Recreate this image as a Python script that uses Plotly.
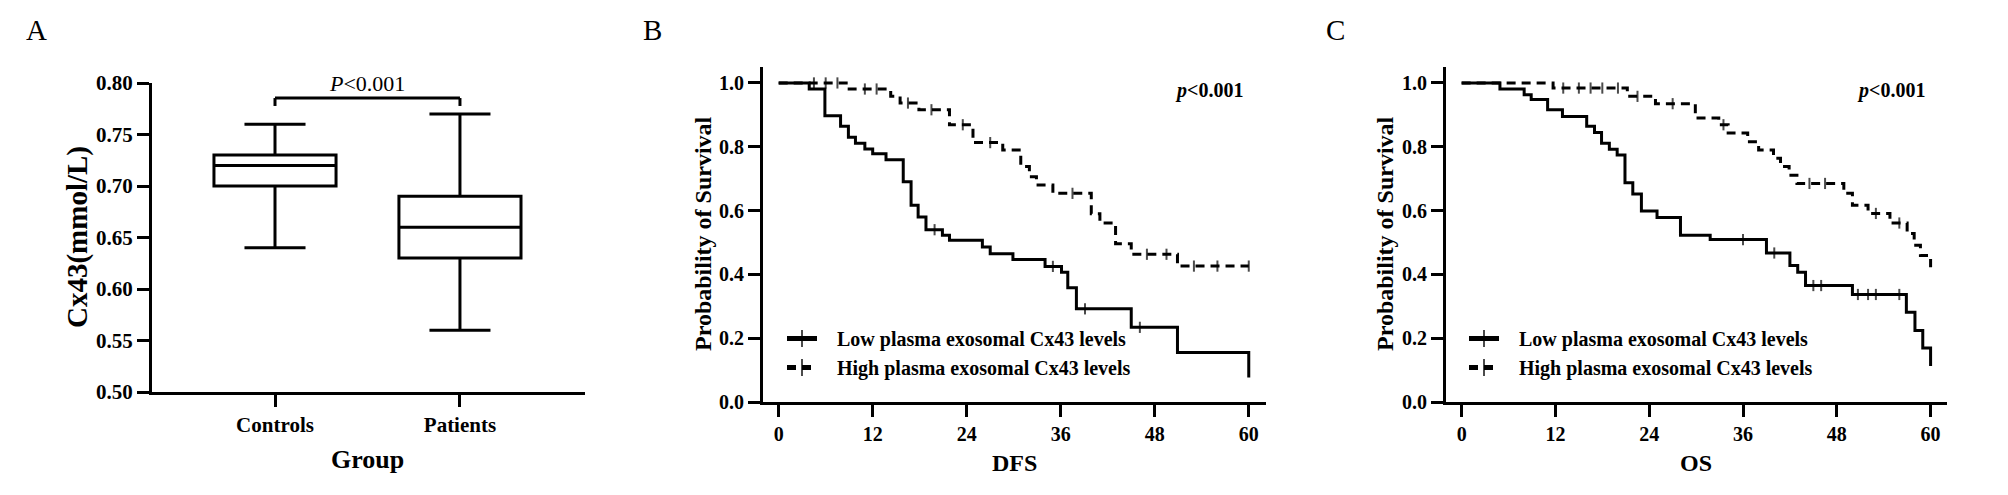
import plotly.graph_objects as go

FONT = "Liberation Serif"

# ---------------- Panel A: box plot data ----------------
groups = ["Controls", "Patients"]
lower_whisker = [0.64, 0.56]
q1_vals = [0.70, 0.63]
median_vals = [0.72, 0.66]
q3_vals = [0.73, 0.69]
upper_whisker = [0.76, 0.77]
a_yticks = [0.50, 0.55, 0.60, 0.65, 0.70, 0.75, 0.80]

# ---------------- Panel B: DFS Kaplan-Meier ----------------
dfs_low_times = [0, 3.9, 5.9, 7.9, 8.9, 9.8, 11.0, 12.0, 13.7, 15.9, 16.9, 17.8, 18.8,
                 20.9, 21.8, 26.0, 27.0, 29.9, 34.0, 36.1, 36.9, 38.0, 45.0, 50.9, 60.0]
dfs_low_surv = [1.0, 0.981, 0.897, 0.864, 0.83, 0.811, 0.793, 0.778, 0.759, 0.69, 0.617, 0.58, 0.54,
                0.523, 0.507, 0.486, 0.465, 0.447, 0.425, 0.407, 0.358, 0.292, 0.234, 0.155, 0.077]
dfs_low_censor = [19.9, 35.0, 39.1, 46.1]

dfs_high_times = [0, 9.0, 14.3, 15.5, 17.9, 21.8, 24.8, 28.6, 30.9, 32.0, 32.9, 35.0,
                  39.9, 41.0, 43.0, 45.0, 50.9]
dfs_high_surv = [1.0, 0.981, 0.958, 0.937, 0.916, 0.869, 0.813, 0.79, 0.738, 0.706, 0.68, 0.654,
                 0.59, 0.561, 0.496, 0.463, 0.426]
dfs_high_censor = [4.5, 6.0, 7.5, 11.0, 12.5, 16.5, 19.5, 23.5, 27.0, 37.5, 47.0, 49.5, 53.0, 56.0, 60.0]

# ---------------- Panel C: OS Kaplan-Meier ----------------
os_low_times = [0, 4.9, 8.0, 8.9, 11.0, 12.9, 16.0, 17.0, 17.9, 18.9, 19.9, 20.9, 21.9, 23.0,
                25.0, 28.0, 31.8, 39.0, 42.0, 43.0, 44.0, 50.0, 56.9, 58.0, 59.0, 60.0]
os_low_surv = [1.0, 0.981, 0.963, 0.948, 0.916, 0.895, 0.864, 0.845, 0.811, 0.792, 0.774, 0.687,
               0.652, 0.599, 0.578, 0.523, 0.509, 0.467, 0.428, 0.407, 0.365, 0.337, 0.281, 0.224,
               0.169, 0.113]
os_low_censor = [36.0, 40.0, 45.0, 46.0, 50.7, 52.0, 53.0, 56.0]

os_high_times = [0, 11.7, 21.2, 24.8, 29.9, 32.9, 34.1, 36.6, 38.0, 39.9, 40.8, 41.9, 42.9,
                 48.9, 50.0, 52.0, 54.8, 57.0, 57.9, 58.7, 60.0]
os_high_surv = [1.0, 0.984, 0.958, 0.935, 0.89, 0.869, 0.843, 0.816, 0.79, 0.764, 0.738, 0.711,
                0.685, 0.654, 0.617, 0.591, 0.561, 0.528, 0.491, 0.459, 0.422]
os_high_censor = [13.0, 15.0, 16.5, 18.0, 20.0, 22.5, 27.0, 33.5, 44.5, 46.5, 53.0, 56.0]

km_xticks = [0, 12, 24, 36, 48, 60]
km_yticks = [0.0, 0.2, 0.4, 0.6, 0.8, 1.0]

low_name = "Low plasma exosomal Cx43 levels"
high_name = "High plasma exosomal Cx43 levels"


def km_points(times, surv, censor, tick_size=8):
    pts = [(t, s, 0) for t, s in zip(times, surv)]
    for c in censor:
        s_c = surv[0]
        for t, s in zip(times, surv):
            if t <= c:
                s_c = s
        pts.append((c, s_c, tick_size))
    pts.sort(key=lambda p: (p[0], -p[1]))
    return [p[0] for p in pts], [p[1] for p in pts], [p[2] for p in pts]


fig = go.Figure()

# Panel A box plot
fig.add_trace(go.Box(
    x=groups, q1=q1_vals, median=median_vals, q3=q3_vals,
    lowerfence=lower_whisker, upperfence=upper_whisker,
    width=0.66, whiskerwidth=0.5, fillcolor="white",
    line=dict(color="black", width=3), boxpoints=False,
    showlegend=False, xaxis="x", yaxis="y", hoverinfo="skip",
))

PAD = "\u00a0\u00a0\u00a0"  # extra gap between legend symbol and text


def add_km(times, surv, censor, name, dash, xa, ya, legend):
    x, y, sz = km_points(times, surv, censor)
    fig.add_trace(go.Scatter(
        x=x, y=y, mode="lines+markers", name=PAD + name, line_shape="hv",
        line=dict(color="black", width=3, dash=dash),
        marker=dict(symbol="line-ns", size=sz, color="black",
                    line=dict(color="black", width=2)),
        xaxis=xa, yaxis=ya, legend=legend,
    ))


add_km(dfs_low_times, dfs_low_surv, dfs_low_censor, low_name, "solid", "x2", "y2", "legend")
add_km(dfs_high_times, dfs_high_surv, dfs_high_censor, high_name, "9px,6px", "x2", "y2", "legend")
add_km(os_low_times, os_low_surv, os_low_censor, low_name, "solid", "x3", "y3", "legend2")
add_km(os_high_times, os_high_surv, os_high_censor, high_name, "9px,6px", "x3", "y3", "legend2")

W, H = 2008, 495


def px_x(p):
    return p / W


def px_y(p):
    return 1 - p / H


axis_common = dict(
    showline=True, linewidth=3, linecolor="black", ticks="outside", ticklen=12,
    tickwidth=3, tickcolor="black", showgrid=False, zeroline=False, automargin=False,
    tickfont=dict(family=FONT, size=20, color="black", weight="bold"),
)

legend_common = dict(xanchor="left", yanchor="top", bgcolor="rgba(0,0,0,0)",
                     itemsizing="constant", borderwidth=0, itemwidth=30,
                     font=dict(family=FONT, size=20, color="black", weight="bold"))

fig.update_layout(
    template="none",
    width=W, height=H, margin=dict(l=0, r=0, t=0, b=0, pad=0, autoexpand=False),
    paper_bgcolor="white", plot_bgcolor="white",
    xaxis=dict(axis_common, domain=[px_x(152), px_x(585)], type="category",
               range=[-0.665, 1.676], anchor="y",
               tickfont=dict(family=FONT, size=21, color="black", weight="bold")),
    yaxis=dict(axis_common, domain=[px_y(392), px_y(83)], range=[0.5, 0.8],
               tickvals=a_yticks, tickformat=".2f", anchor="x",
               tickfont=dict(family=FONT, size=21, color="black", weight="bold")),
    xaxis2=dict(axis_common, domain=[px_x(763), px_x(1266)], range=[-2, 62.2],
                tickvals=km_xticks, anchor="y2"),
    yaxis2=dict(axis_common, domain=[px_y(402), px_y(67)], range=[0, 1.05],
                tickvals=km_yticks, tickformat=".1f", anchor="x2"),
    xaxis3=dict(axis_common, domain=[px_x(1446), px_x(1947)], range=[-2, 62.1],
                tickvals=km_xticks, anchor="y3"),
    yaxis3=dict(axis_common, domain=[px_y(402), px_y(67)], range=[0, 1.05],
                tickvals=km_yticks, tickformat=".1f", anchor="x3"),
    legend=dict(legend_common, x=px_x(782), y=px_y(319)),
    legend2=dict(legend_common, x=px_x(1464), y=px_y(319)),
    showlegend=True,
)

# Bracket for significance in panel A
bracket_y = 0.7854
bracket_tip = 0.7777
for x0, y0, x1, y1 in [(0, bracket_tip, 0, bracket_y), (0, bracket_y, 1, bracket_y),
                       (1, bracket_y, 1, bracket_tip)]:
    fig.add_shape(type="line", xref="x", yref="y", x0=x0, y0=y0, x1=x1, y1=y1,
                  line=dict(color="black", width=3))

ann = []
# Panel letters
for letter, cx in [("A", 36), ("B", 652), ("C", 1335)]:
    ann.append(dict(text=letter, x=px_x(cx), y=px_y(30), xref="paper", yref="paper",
                    showarrow=False, xanchor="center", yanchor="middle",
                    font=dict(family=FONT, size=29, color="black")))
# P value panel A
ann.append(dict(text="<i>P</i>&lt;0.001", x=0.5, y=bracket_y, xref="x", yref="y",
                showarrow=False, xanchor="center", yanchor="bottom", yshift=0,
                font=dict(family=FONT, size=22, color="black")))
# p values panels B, C
for cx in [1209, 1891]:
    ann.append(dict(text="<i>p</i>&lt;0.001", x=px_x(cx), y=px_y(90), xref="paper", yref="paper",
                    showarrow=False, xanchor="center", yanchor="middle",
                    font=dict(family=FONT, size=20, color="black", weight="bold")))
# Axis titles
ann.append(dict(text="Cx43(mmol/L)", x=px_x(77), y=px_y(237), xref="paper", yref="paper",
                showarrow=False, textangle=-90, xanchor="center", yanchor="middle",
                font=dict(family=FONT, size=29, color="black", weight="bold")))
ann.append(dict(text="Group", x=px_x(367), y=px_y(459), xref="paper", yref="paper",
                showarrow=False, xanchor="center", yanchor="middle",
                font=dict(family=FONT, size=26, color="black", weight="bold")))
for cx in [703, 1385]:
    ann.append(dict(text="Probability of Survival", x=px_x(cx), y=px_y(234), xref="paper",
                    yref="paper", showarrow=False, textangle=-90, xanchor="center",
                    yanchor="middle",
                    font=dict(family=FONT, size=24, color="black", weight="bold")))
for txt, cx in [("DFS", 1014), ("OS", 1696)]:
    ann.append(dict(text=txt, x=px_x(cx), y=px_y(463), xref="paper", yref="paper",
                    showarrow=False, xanchor="center", yanchor="middle",
                    font=dict(family=FONT, size=24, color="black", weight="bold")))

fig.update_layout(annotations=ann)

fig.write_html("out.html", config={"displayModeBar": False},
               post_script="document.body.style.margin='0';")
